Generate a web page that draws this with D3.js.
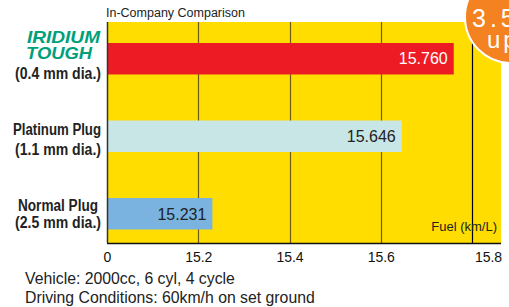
<!DOCTYPE html>
<html>
<head>
<meta charset="UTF-8">
<title>In-Company Comparison</title>
<style>
  body { margin: 0; background: #fff; }
  text { font-family: "Liberation Sans", Arial, sans-serif; }
</style>
</head>
<body>
<div id="chart"></div>
<script src="https://cdn.jsdelivr.net/npm/d3@7"></script>
<script>
// chart data
var plugs = ["iridium", "platinum", "normal"];
var fuelValues = [15.760, 15.646, 15.231];
var barColors = ["#ed1c24", "#c8e6e6", "#7ab3e0"];
var labelColors = ["#ffffff", "#222222", "#222222"];
var tickValues = [15.0, 15.2, 15.4, 15.6, 15.8];
var tickLabels = ["0", "15.2", "15.4", "15.6", "15.8"];
var plugNames = [["Platinum Plug", "(1.1 mm dia.)"], ["Normal Plug", "(2.5 mm dia.)"]];
var footNotes = ["Vehicle: 2000cc, 6 cyl, 4 cycle", "Driving Conditions: 60km/h on set ground"];

var width = 509, height = 307;
var plot = { left: 107, right: 501, top: 22, bottom: 243 };

var svg = d3.select("#chart").append("svg")
  .attr("width", width)
  .attr("height", height);

// axis starts at 15.0 (shown as a broken "0")
var x = d3.scaleLinear().domain([15.0, 15.8]).range([plot.left, 472]);
var y = d3.scaleBand().domain(plugs).range([19.75, 252.75])
  .paddingInner(0.594).paddingOuter(0.3);

// yellow background
svg.append("rect")
  .attr("x", plot.left).attr("y", plot.top)
  .attr("width", plot.right - plot.left).attr("height", plot.bottom - plot.top)
  .attr("fill", "#ffdd00");

// grid lines
svg.selectAll(".grid")
  .data(tickValues.slice(1))
  .join("line")
  .attr("class", "grid")
  .attr("x1", function(d) { return Math.round(x(d)) + 0.5; })
  .attr("x2", function(d) { return Math.round(x(d)) + 0.5; })
  .attr("y1", plot.top)
  .attr("y2", plot.bottom)
  .attr("stroke", function(d, i) { return i == 3 ? "#000" : "#6b5a10"; })
  .attr("stroke-width", 1.2);

// bars
svg.selectAll(".bar")
  .data(fuelValues)
  .join("rect")
  .attr("class", "bar")
  .attr("x", plot.left)
  .attr("y", function(d, i) { return y(plugs[i]); })
  .attr("width", function(d) { return x(d) - plot.left; })
  .attr("height", y.bandwidth())
  .attr("fill", function(d, i) { return barColors[i]; });

svg.selectAll(".val")
  .data(fuelValues)
  .join("text")
  .attr("class", "val")
  .attr("x", function(d) { return x(d) - 6; })
  .attr("y", function(d, i) { return y(plugs[i]) + y.bandwidth() / 2; })
  .attr("dy", "0.36em")
  .attr("text-anchor", "end")
  .attr("font-size", "16px")
  .attr("fill", function(d, i) { return labelColors[i]; })
  .text(function(d) { return d3.format(".3f")(d); });

// axes
var xAxis = d3.axisBottom(x).tickValues(tickValues).tickSize(0).tickPadding(9)
  .tickFormat(function(d, i) { return tickLabels[i]; });
var gx = svg.append("g")
  .attr("transform", "translate(0," + plot.bottom + ")")
  .call(xAxis);
gx.select(".domain").remove();
gx.selectAll("text")
  .attr("font-size", "14px")
  .attr("font-family", "Liberation Sans, Arial, sans-serif")
  .attr("fill", "#111")
  .attr("dx", function(d, i) { return i == 4 ? 16 : 0; });

svg.append("line")
  .attr("x1", plot.left).attr("x2", plot.right)
  .attr("y1", plot.bottom + 0.5).attr("y2", plot.bottom + 0.5)
  .attr("stroke", "#111").attr("stroke-width", 1.5);
svg.append("line")
  .attr("x1", plot.left + 0.5).attr("x2", plot.left + 0.5)
  .attr("y1", plot.top).attr("y2", plot.bottom)
  .attr("stroke", "#333").attr("stroke-width", 1.5);

svg.append("text")
  .attr("x", 497).attr("y", 231)
  .attr("text-anchor", "end")
  .attr("font-size", "13px")
  .attr("fill", "#222")
  .text("Fuel (km/L)");

svg.append("text")
  .attr("x", 106).attr("y", 17)
  .attr("font-size", "12.5px")
  .attr("fill", "#222")
  .text("In-Company Comparison");

// category labels (condensed by fitting to measured widths)
function label(txt, cx, by, w, size) {
  svg.append("text")
    .attr("x", cx - w / 2).attr("y", by)
    .attr("font-weight", "bold")
    .attr("font-size", size + "px")
    .attr("fill", "#222")
    .attr("textLength", w)
    .attr("lengthAdjust", "spacingAndGlyphs")
    .text(txt);
}

var logo = svg.append("g")
  .attr("font-weight", "bold")
  .attr("font-style", "italic")
  .attr("fill", "#00a07a")
  .attr("font-size", "17px")
  .attr("lengthAdjust", "spacingAndGlyphs");
logo.append("text").attr("x", 27).attr("y", 43).attr("textLength", 73).attr("lengthAdjust", "spacingAndGlyphs").text("IRIDIUM");
logo.append("text").attr("x", 26).attr("y", 59).attr("textLength", 66).attr("lengthAdjust", "spacingAndGlyphs").text("TOUGH");

label("(0.4 mm dia.)", 58, 79, 86, 16);
label(plugNames[0][0], 57, 135, 88, 16);
label(plugNames[0][1], 58, 155, 86, 16);
label(plugNames[1][0], 58, 211, 80, 16);
label(plugNames[1][1], 58, 228, 86, 16);

// footnotes
svg.selectAll(".note")
  .data(footNotes)
  .join("text")
  .attr("class", "note")
  .attr("x", 25)
  .attr("y", function(d, i) { return 284 + i * 19; })
  .attr("font-size", "15.8px")
  .attr("fill", "#222")
  .text(function(d) { return d; });

// badge
svg.append("circle")
  .attr("cx", 511).attr("cy", 17).attr("r", 46)
  .attr("fill", "#f58220")
  .attr("stroke", "#fff").attr("stroke-width", 2);
svg.append("text")
  .attr("x", 472).attr("y", 27)
  .attr("font-size", "25px")
  .attr("letter-spacing", 4)
  .attr("fill", "#fff")
  .text("3.5%");
svg.append("text")
  .attr("x", 487).attr("y", 48)
  .attr("font-size", "24px")
  .attr("letter-spacing", 3)
  .attr("fill", "#fff")
  .text("up");
</script>
</body>
</html>
